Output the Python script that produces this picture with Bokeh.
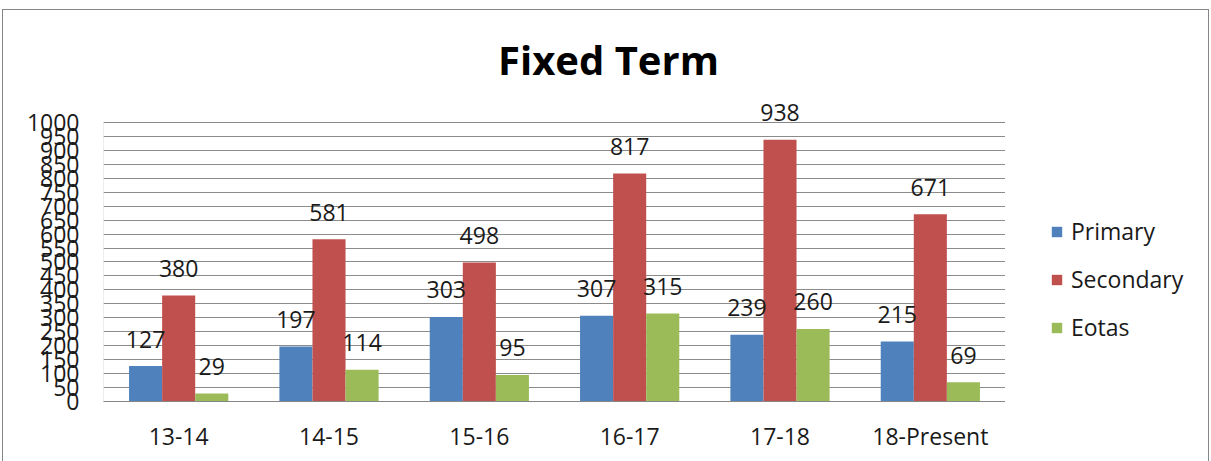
from bokeh.plotting import figure
from bokeh.layouts import row, column
from bokeh.models import (ColumnDataSource, FactorRange, Range1d, Legend, LegendItem,
                          FixedTicker, Div, LabelSet, BoxAnnotation)
from bokeh.transform import dodge
from bokeh.core.properties import value
from bokeh.embed import file_html
from bokeh.resources import INLINE

categories = ["13-14", "14-15", "15-16", "16-17", "17-18", "18-Present"]
primary = [127, 197, 303, 307, 239, 215]
secondary = [380, 581, 498, 817, 938, 671]
eotas = [29, 114, 95, 315, 260, 69]
series_names = ["Primary", "Secondary", "Eotas"]
colors = ["#4F81BD", "#C0504D", "#9BBB59"]
y_ticks = [0, 50, 100, 150, 200, 250, 300, 350, 400, 450, 500,
           550, 600, 650, 700, 750, 800, 850, 900, 950, 1000]
title_text = "Fixed Term"

FONT = "Open Sans"
FS = "23px"

source = ColumnDataSource(dict(
    cat=categories,
    Primary=primary,
    Secondary=secondary,
    Eotas=eotas,
    Primary_t=[str(v) for v in primary],
    Secondary_t=[str(v) for v in secondary],
    Eotas_t=[str(v) for v in eotas],
))

title = Div(text=title_text, width=1205, height=85, margin=0,
            styles={"font-family": "Open Sans", "font-size": "40px", "font-weight": "bold",
                    "color": "#000000", "text-align": "center", "line-height": "normal",
                    "padding-top": "22px", "padding-left": "6px", "box-sizing": "border-box"})

# frame extends a little above 1000 so that the top data label is not clipped;
# the plot-area box itself is drawn from 0 to 1000 below
p = figure(
    x_range=FactorRange(*categories, range_padding=0),
    y_range=Range1d(0, 1093),
    width=1002, height=366,
    output_backend="svg", toolbar_location=None,
    min_border_left=100, min_border_right=0, min_border_top=1, min_border_bottom=60,
)

area_box = BoxAnnotation(bottom=y_ticks[0], top=y_ticks[-1], fill_color=None, fill_alpha=0,
                         line_color="#868686", line_width=1, level="underlay")
p.add_layout(area_box)

offsets = [-0.22, 0.0, 0.22]
for name, off, col in zip(series_names, offsets, colors):
    p.vbar(x=dodge("cat", off, range=p.x_range), top=name, width=0.22,
           source=source, fill_color=col, line_color=None)
    labels = LabelSet(x=dodge("cat", off, range=p.x_range), y=name, text=name + "_t",
                      source=source, text_align="center", text_baseline="middle",
                      y_offset=27, text_font=value(FONT), text_font_size=value(FS),
                      text_color="#1a1a1a")
    p.add_layout(labels)

p.yaxis.ticker = FixedTicker(ticks=y_ticks)
p.yaxis.major_label_text_font = FONT
p.yaxis.major_label_text_font_size = FS
p.yaxis.major_label_text_color = "#1a1a1a"
p.yaxis.major_label_standoff = 18
p.yaxis.major_tick_line_color = None
p.yaxis.minor_tick_line_color = None
p.yaxis.axis_line_color = None

p.xaxis.major_label_text_font = FONT
p.xaxis.major_label_text_font_size = FS
p.xaxis.major_label_text_color = "#1a1a1a"
p.xaxis.major_label_standoff = 12
p.xaxis.major_tick_line_color = None
p.xaxis.axis_line_color = "#868686"

p.xgrid.grid_line_color = None
p.ygrid.grid_line_color = "#8c8c8c"
p.ygrid.ticker = FixedTicker(ticks=y_ticks)
p.outline_line_color = None
p.background_fill_color = "white"
p.border_fill_color = "white"

# legend panel (legend swatches only; zero-height placeholder bars draw nothing)
p2 = figure(width=203, height=366, output_backend="svg", toolbar_location=None,
            x_range=Range1d(0, 1), y_range=Range1d(0, 1),
            x_axis_type=None, y_axis_type=None,
            min_border_left=0, min_border_right=0, min_border_top=0, min_border_bottom=0)
p2.outline_line_color = None
p2.background_fill_color = "white"
p2.border_fill_color = "white"
p2.grid.visible = False
items = []
for name, col in zip(series_names, colors):
    r = p2.vbar(x=[0.5], top=[0], bottom=[0], width=0.1, fill_color=col, line_color=None)
    items.append(LegendItem(label=name, renderers=[r]))
legend = Legend(items=items, location=(45, 58), orientation="vertical",
                label_text_font=FONT, label_text_font_size=FS, label_text_color="#1a1a1a",
                glyph_width=13, glyph_height=13, spacing=16, padding=0, margin=0,
                label_standoff=8, border_line_color=None, background_fill_alpha=0)
p2.add_layout(legend, "center")

layout = column(title, row(p, p2, spacing=0), spacing=0)
layout.styles = {"outline": "1px solid #868686", "margin-left": "3px", "margin-top": "10px",
                 "background-color": "white"}

open("out.html", "w").write(file_html(layout, INLINE))
